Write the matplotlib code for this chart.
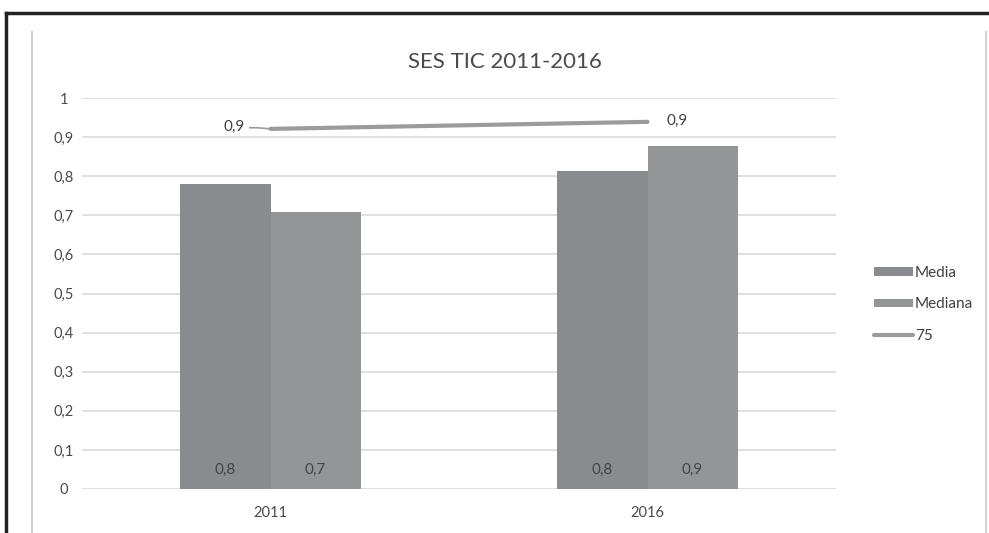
import numpy as np
import matplotlib.pyplot as plt
from matplotlib.lines import Line2D

plt.rcParams['font.family'] = ['Lato', 'DejaVu Sans']

years = ['2011', '2016']
media = [0.78, 0.813]
mediana = [0.708, 0.877]
p75 = [0.921, 0.939]
yticks = [0, 0.1, 0.2, 0.3, 0.4, 0.5, 0.6, 0.7, 0.8, 0.9, 1]
ytick_labels = ['0', '0,1', '0,2', '0,3', '0,4', '0,5', '0,6', '0,7', '0,8', '0,9', '1']

txt = '#595959'
c_media = '#8a8b8e'
c_mediana = '#949597'
c_line = '#9b9b9b'

fig = plt.figure(figsize=(9.89, 5.33), dpi=100)
fig.patch.set_facecolor('white')

# outer black frame and inner gray chart border
fig.add_artist(Line2D([6 / 989, 1], [1 - 13 / 533] * 2, color='#222222', lw=2.5))
fig.add_artist(Line2D([6 / 989] * 2, [0, 1 - 13 / 533], color='#222222', lw=2.5))
fig.add_artist(Line2D([32 / 989] * 2, [0, 1 - 32 / 533], color='#d0d0d0', lw=1.5))
fig.add_artist(Line2D([986 / 989] * 2, [0, 1 - 32 / 533], color='#d0d0d0', lw=1.5))

ax = fig.add_axes([82 / 989, 1 - 489 / 533, 754 / 989, 391 / 533])
x = np.arange(len(years))
w = 0.239
b1 = ax.bar(x - w / 2, media, w, color=c_media, label='Media', zorder=3)
b2 = ax.bar(x + w / 2, mediana, w, color=c_mediana, label='Mediana', zorder=3)
ln, = ax.plot(x, p75, color=c_line, lw=3, solid_capstyle='round', label='75', zorder=4)

for bars, vals in [(b1, media), (b2, mediana)]:
    for r, v in zip(bars, vals):
        ax.text(r.get_x() + r.get_width() / 2, 0.048, f'{v:.1f}'.replace('.', ','),
                ha='center', va='center', fontsize=11, color='#454545', zorder=5)

# 75 line labels
ax.plot([x[0] - 0.055, x[0] - 0.035, x[0]], [p75[0] + 0.003, p75[0] + 0.003, p75[0]],
        color=c_line, lw=1.2, zorder=4)
ax.text(x[0] - 0.068, p75[0] + 0.004, f'{p75[0]:.1f}'.replace('.', ','), ha='right', va='center',
        fontsize=11, color='#404040')
ax.text(x[1] + 0.05, p75[1] + 0.003, f'{p75[1]:.1f}'.replace('.', ','), ha='left', va='center',
        fontsize=11, color='#404040')

ax.set_xlim(-0.5, 1.5)
ax.set_ylim(0, 1)
ax.set_yticks(yticks)
ax.set_yticklabels(ytick_labels, ha='center')
ax.set_xticks(x)
ax.set_xticklabels(years)
ax.tick_params(axis='both', length=0, labelsize=10.5, labelcolor='#4a4a4a')
ax.tick_params(axis='y', pad=13)
ax.tick_params(axis='x', pad=12)
ax.grid(axis='y', color='#d9d9d9', lw=1.2, zorder=0)
for s in ax.spines.values():
    s.set_visible(False)

fig.text(505 / 989, 1 - 62 / 533, 'SES TIC 2011-2016', ha='center', va='center',
         fontsize=16, color='#4a4a4a')

leg = fig.legend(handles=[b1, b2, ln], loc='upper left', bbox_to_anchor=(860 / 989, 1 - 252 / 533),
                 frameon=False, fontsize=11, handlelength=2.6, handleheight=0.5,
                 labelspacing=1.15, handletextpad=0.1)
for t in leg.get_texts():
    t.set_color('#404040')

fig.savefig('out.png', dpi=100)
